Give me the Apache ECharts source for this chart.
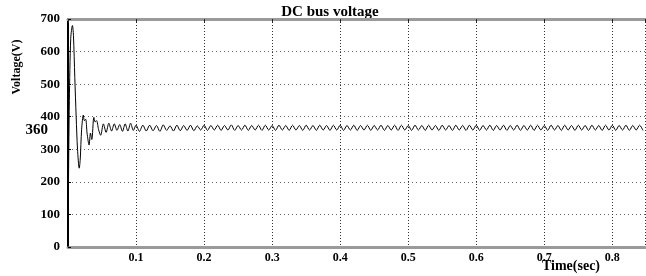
<!DOCTYPE html>
<html>
<head>
<meta charset="utf-8">
<script src="https://cdn.jsdelivr.net/npm/echarts@6/dist/echarts.min.js"></script>
<style>html,body{margin:0;padding:0;background:#fff}#c{width:646px;height:276px}</style>
</head>
<body>
<div id="c"></div>
<script>
var titleText = 'DC bus voltage';
var xName = 'Time(sec)';
var yName = 'Voltage(V)';
var xTicks = ['0.1','0.2','0.3','0.4','0.5','0.6','0.7','0.8'];
var yTicks = ['0','100','200','300','400','500','600','700'];
var refLabel = 360;

var transientTime = [0.000,0.0005,0.002,0.004,0.0065,0.008,0.010,0.012,0.014,0.0165,
  0.018,0.020,0.0225,0.024,0.026,0.028,0.031,0.033,0.035,0.038,
  0.040,0.042,0.045,0.048,0.052,0.056,0.060,0.064,0.068,0.072,
  0.076,0.080,0.084,0.088,0.092,0.096,0.100,0.105,0.110];
var transientVolt = [0,150,450,640,680,650,520,400,300,242,
  270,360,405,388,392,350,313,350,330,398,
  384,388,360,343,378,352,380,356,378,358,
  376,355,378,356,380,358,374,355,374];

var rippleTime = [0.115,0.120,0.125,0.130,0.135,0.140,0.145,0.150,0.155,0.160,
  0.165,0.170,0.175,0.180,0.185,0.190,0.195,0.200,0.205,0.210,
  0.215,0.220,0.225,0.230,0.235,0.240,0.245,0.250,0.255,0.260,
  0.265,0.270,0.275,0.280,0.285,0.290,0.295,0.300,0.305,0.310,
  0.315,0.320,0.325,0.330,0.335,0.340,0.345,0.350,0.355,0.360,
  0.365,0.370,0.375,0.380,0.385,0.390,0.395,0.400,0.405,0.410,
  0.415,0.420,0.425,0.430,0.435,0.440,0.445,0.450,0.455,0.460,
  0.465,0.470,0.475,0.480,0.485,0.490,0.495,0.500,0.505,0.510,
  0.515,0.520,0.525,0.530,0.535,0.540,0.545,0.550,0.555,0.560,
  0.565,0.570,0.575,0.580,0.585,0.590,0.595,0.600,0.605,0.610,
  0.615,0.620,0.625,0.630,0.635,0.640,0.645,0.650,0.655,0.660,
  0.665,0.670,0.675,0.680,0.685,0.690,0.695,0.700,0.705,0.710,
  0.715,0.720,0.725,0.730,0.735,0.740,0.745,0.750,0.755,0.760,
  0.765,0.770,0.775,0.780,0.785,0.790,0.795,0.800,0.805,0.810,
  0.815,0.820,0.825,0.830,0.835,0.840,0.845];
var rippleVolt = [356,374,357,373,355,375,358,372,356,374,
  357,373,358,374,357,372,359,374,358,373,
  359,374,358,373,359,375,358,373,359,374,
  358,373,359,374,358,374,359,373,358,374,
  359,373,358,374,359,373,358,374,359,373,
  358,374,359,373,358,374,359,374,358,373,
  359,374,358,373,359,374,358,373,359,374,
  358,373,359,374,358,374,359,373,358,374,
  359,373,358,374,359,373,358,374,359,373,
  358,374,359,373,358,374,359,374,358,373,
  359,374,358,373,359,374,358,373,359,374,
  358,373,359,374,358,374,359,373,358,374,
  359,373,358,374,359,373,358,374,359,373,
  358,374,359,373,358,374,359,374,358,373,
  359,374,358,373,359,374,358];

var seriesData = [];
transientTime.forEach(function(t, i){ seriesData.push([t, transientVolt[i]]); });
rippleTime.forEach(function(t, i){ seriesData.push([t, rippleVolt[i]]); });

var serif = '"Liberation Serif", "DejaVu Serif", serif';
var chart = echarts.init(document.getElementById('c'), null, {renderer: 'canvas'});
chart.setOption({
  animation: false,
  backgroundColor: '#fff',
  grid: {left: 68, right: 1, top: 19, bottom: 29, containLabel: false},
  xAxis: [{
    type: 'value', min: 0, max: 0.848, interval: 0.1, position: 'bottom',
    axisLine: {show: true, onZero: false, lineStyle: {color: '#9a9a9a', width: 3}},
    axisTick: {show: false},
    axisLabel: {
      margin: 5, color: '#000', fontFamily: serif, fontWeight: 'bold', fontSize: 12,
      showMinLabel: false, showMaxLabel: false,
      formatter: function(v){ var s = v.toFixed(1); return xTicks.indexOf(s) >= 0 ? s : ''; }
    },
    splitLine: {show: true, lineStyle: {color: '#333', type: [1, 2], width: 1}}
  }, {
    type: 'value', min: 0, max: 0.848, interval: 0.1, position: 'top',
    axisLine: {show: true, onZero: false, lineStyle: {color: '#9a9a9a', width: 3}},
    axisTick: {show: true, inside: true, length: 4, lineStyle: {color: '#222'}},
    axisLabel: {show: false}, splitLine: {show: false}
  }],
  yAxis: [{
    type: 'value', min: 0, max: 700, interval: 100,
    axisLine: {show: true, onZero: false, lineStyle: {color: '#000', width: 2}},
    axisTick: {show: true, inside: true, length: 3, lineStyle: {color: '#000'}},
    axisLabel: {
      margin: 8, color: '#000', fontFamily: serif, fontWeight: 'bold', fontSize: 13,
      formatter: function(v){ var s = String(v); return yTicks.indexOf(s) >= 0 ? s : ''; }
    },
    splitLine: {show: true, lineStyle: {color: '#666', type: [1, 3], width: 1}}
  }, {
    type: 'value', min: 0, max: 700, interval: refLabel, position: 'left',
    axisLine: {show: false}, axisTick: {show: false}, splitLine: {show: false},
    axisLabel: {
      margin: 20, color: '#000', fontFamily: serif, fontWeight: 'bold', fontSize: 15,
      formatter: function(v){ return v === refLabel ? String(refLabel) : ''; }
    }
  }],
  graphic: [
    {type: 'text', x: 330, y: 12, style: {text: titleText, fill: '#000', font: 'bold 15px ' + serif, textAlign: 'center', textVerticalAlign: 'middle'}},
    {type: 'text', x: 571, y: 266, style: {text: xName, fill: '#000', font: 'bold 14px ' + serif, textAlign: 'center', textVerticalAlign: 'middle'}},
    {type: 'text', x: 17, y: 67, rotation: Math.PI / 2, style: {text: yName, fill: '#000', font: 'bold 12px ' + serif, textAlign: 'center', textVerticalAlign: 'middle'}}
  ],
  series: [{
    type: 'line', xAxisIndex: 0, yAxisIndex: 0, data: seriesData,
    showSymbol: false, smooth: 0.3,
    lineStyle: {color: '#000', width: 1}
  }]
});
</script>
</body>
</html>
